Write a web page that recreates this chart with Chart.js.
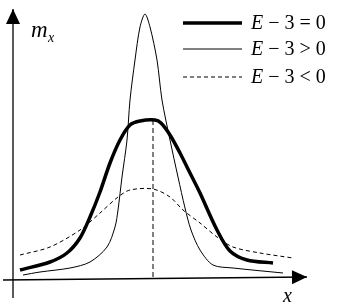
<!DOCTYPE html>
<html>
<head>
<meta charset="utf-8">
<script src="https://cdn.jsdelivr.net/npm/chart.js@4.4.1/dist/chart.umd.min.js"></script>
<style>
  html, body { margin: 0; padding: 0; background: #fff; }
  #wrap { width: 339px; height: 304px; }
</style>
</head>
<body>
<div id="wrap"><canvas id="kurtosisChart"></canvas></div>
<script>
// curves (x along the axis, y = height above the x axis)
const normalCurve = [
  {x: 7, y: 10}, {x: 37, y: 18}, {x: 54, y: 27}, {x: 67, y: 42}, {x: 77, y: 63},
  {x: 87, y: 88}, {x: 97, y: 117}, {x: 107, y: 140}, {x: 117, y: 155}, {x: 127, y: 159},
  {x: 142, y: 160}, {x: 148, y: 157}, {x: 157, y: 145}, {x: 167, y: 127}, {x: 177, y: 107},
  {x: 187, y: 87}, {x: 204, y: 50}, {x: 217, y: 29}, {x: 234, y: 20}, {x: 260, y: 17}
];
const peakedCurve = [
  {x: 10, y: 5}, {x: 27, y: 8}, {x: 57, y: 12}, {x: 77, y: 18}, {x: 94, y: 33},
  {x: 102, y: 53}, {x: 105, y: 70}, {x: 109, y: 103}, {x: 114, y: 140}, {x: 117, y: 180},
  {x: 122, y: 220}, {x: 127, y: 253}, {x: 132, y: 266}, {x: 137, y: 253}, {x: 144, y: 220},
  {x: 149, y: 180}, {x: 157, y: 140}, {x: 165, y: 103}, {x: 172, y: 72}, {x: 178, y: 50},
  {x: 187, y: 30}, {x: 200, y: 15}, {x: 220, y: 12}, {x: 270, y: 7}
];
const flatCurve = [
  {x: 7, y: 25}, {x: 37, y: 33}, {x: 67, y: 50}, {x: 87, y: 67}, {x: 105, y: 83},
  {x: 117, y: 90}, {x: 140, y: 91}, {x: 157, y: 83}, {x: 170, y: 70}, {x: 187, y: 57},
  {x: 204, y: 43}, {x: 220, y: 33}, {x: 247, y: 27}, {x: 280, y: 22}
];
const meanLine = [{x: 140, y: 160}, {x: 140, y: 2}];
const xAxisLine = [{x: -10, y: 0}, {x: 294, y: 3}];
const yAxisLine = [{x: 0, y: -18}, {x: 0, y: 271}];

const legendLabels = [' \u2212 3 = 0', ' \u2212 3 > 0', ' \u2212 3 < 0'];
const yAxisTitle = ['m', 'x'];
const xAxisTitle = 'x';

// arrow heads, legend and axis letters
const extras = {
  id: 'extras',
  afterDatasetsDraw(chart) {
    const c = chart.ctx;
    const xs = chart.scales.x, ys = chart.scales.y;
    c.save();
    c.fillStyle = '#000';

    [xAxisLine, yAxisLine].forEach(line => {
      const a = line[line.length - 2], b = line[line.length - 1];
      const bx = xs.getPixelForValue(b.x), by = ys.getPixelForValue(b.y);
      const ax = xs.getPixelForValue(a.x), ay = ys.getPixelForValue(a.y);
      const ang = Math.atan2(by - ay, bx - ax);
      c.save();
      c.translate(bx, by);
      c.rotate(ang);
      c.beginPath();
      c.moveTo(0, 0);
      c.lineTo(-15, -7);
      c.lineTo(-15, 7);
      c.closePath();
      c.fill();
      c.restore();
    });

    // legend
    const rows = [23, 49, 77];
    [0, 1, 2].forEach(i => {
      const ds = chart.data.datasets[i];
      c.save();
      c.strokeStyle = '#000';
      c.lineWidth = ds.borderWidth;
      c.setLineDash(ds.borderDash || []);
      c.beginPath();
      c.moveTo(183, rows[i]);
      c.lineTo(242, rows[i]);
      c.stroke();
      c.restore();
      c.textBaseline = 'alphabetic';
      c.font = 'italic 20px "Liberation Serif"';
      c.fillText('E', 251, rows[i] + 6);
      const w = c.measureText('E').width;
      c.font = '20px "Liberation Serif"';
      c.fillText(legendLabels[i], 251 + w, rows[i] + 6);
    });

    c.font = 'italic 23px "Liberation Serif"';
    c.fillText(yAxisTitle[0], 31, 37);
    c.font = 'italic 14px "Liberation Serif"';
    c.fillText(yAxisTitle[1], 48, 42);
    c.font = 'italic 20px "Liberation Serif"';
    c.fillText(xAxisTitle, 283, 302);
    c.restore();
  }
};

const thin = {borderColor: '#000', pointRadius: 0, showLine: true, fill: false, clip: false};

new Chart(document.getElementById('kurtosisChart'), {
  type: 'scatter',
  data: {
    datasets: [
      {...thin, data: normalCurve, borderWidth: 3.5, tension: 0.3},
      {...thin, data: peakedCurve, borderWidth: 1, tension: 0.3},
      {...thin, data: flatCurve, borderWidth: 1, borderDash: [4, 3], tension: 0.3},
      {...thin, data: meanLine, borderWidth: 1, borderDash: [5, 3]},
      {...thin, data: xAxisLine, borderWidth: 1.3},
      {...thin, data: yAxisLine, borderWidth: 1.3}
    ]
  },
  options: {
    responsive: true,
    maintainAspectRatio: false,
    animation: false,
    layout: { padding: 0 },
    plugins: { legend: { display: false }, tooltip: { enabled: false } },
    scales: {
      x: { type: 'linear', display: false, min: -13, max: 326 },
      y: { type: 'linear', display: false, min: -24, max: 280 }
    }
  },
  plugins: [extras]
});
</script>
</body>
</html>
